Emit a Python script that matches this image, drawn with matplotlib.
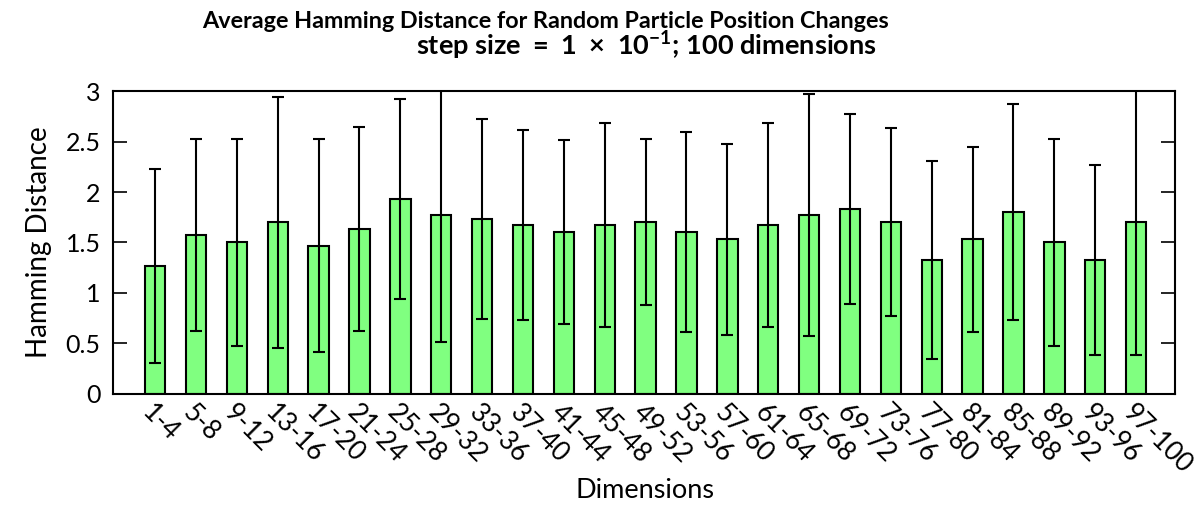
import numpy as np
import matplotlib
matplotlib.use('Agg')
import matplotlib.pyplot as plt

plt.rcParams['font.family'] = ['Lato', 'DejaVu Sans']
plt.rcParams['mathtext.fontset'] = 'custom'
plt.rcParams['mathtext.rm'] = 'Lato'
plt.rcParams['mathtext.bf'] = 'Lato:bold'

# dimension groups of 4
groups = ['1-4', '5-8', '9-12', '13-16', '17-20', '21-24', '25-28', '29-32',
          '33-36', '37-40', '41-44', '45-48', '49-52', '53-56', '57-60',
          '61-64', '65-68', '69-72', '73-76', '77-80', '81-84', '85-88',
          '89-92', '93-96', '97-100']
# mean hamming distance per group
means = [1.27, 1.57, 1.50, 1.70, 1.47, 1.63, 1.93, 1.77, 1.73, 1.67, 1.60,
         1.67, 1.70, 1.60, 1.53, 1.67, 1.77, 1.83, 1.70, 1.33, 1.53, 1.80,
         1.50, 1.33, 1.70]
# standard deviation per group
stds = [0.96, 0.95, 1.02, 1.24, 1.05, 1.01, 0.99, 1.26, 0.99, 0.94, 0.91,
        1.01, 0.82, 0.99, 0.95, 1.01, 1.20, 0.94, 0.93, 0.98, 0.92, 1.07,
        1.02, 0.94, 1.31]

x = np.arange(len(groups))

fig = plt.figure(figsize=(12.02, 5.07), dpi=100)
ax = fig.add_axes([0.094, 0.2229, 0.8835, 0.5976])

ax.bar(x, means, width=0.5, color='#80ff80', edgecolor='black', linewidth=1.5, zorder=2)
ax.errorbar(x, means, yerr=stds, fmt='none', ecolor='black', elinewidth=1.5,
            capsize=4.5, capthick=1.5, zorder=3)

ax.set_xlim(-1.03, 24.95)
ax.set_ylim(0, 3)
ax.set_yticks([0, 0.5, 1, 1.5, 2, 2.5, 3])
ax.set_yticklabels(['0', '0.5', '1', '1.5', '2', '2.5', '3'], fontsize=18)
ax.tick_params(axis='y', direction='in', length=10, width=1.2, right=True, pad=9)
ax.set_xticks(x)
ax.set_xticklabels(groups, rotation=-45, ha='left', va='top',
                   rotation_mode='anchor', fontsize=19)
ax.tick_params(axis='x', length=0, pad=4)
for s in ax.spines.values():
    s.set_linewidth(1.5)

ax.set_ylabel('Hamming Distance', fontsize=20, labelpad=10)
fig.text(645 / 1202, 1 - 490 / 507, 'Dimensions', fontsize=19.5, ha='center', va='center')

fig.text(545 / 1202, 1 - 21 / 507,
         'Average Hamming Distance for Random Particle Position Changes',
         fontsize=16.8, fontweight='bold', ha='center', va='center')
fig.text(646 / 1202, 1 - 46 / 507,
         r'step size $\mathbf{=\;1\;\times\;10^{-1}}$; 100 dimensions',
         fontsize=19.5, fontweight='bold', ha='center', va='center')

fig.savefig('out.png', dpi=100)
